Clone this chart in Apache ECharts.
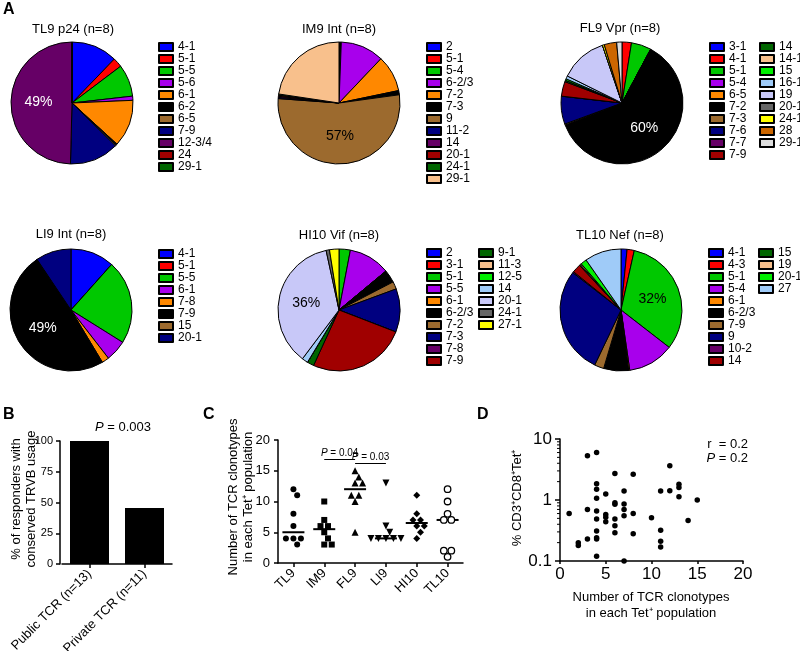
<!DOCTYPE html>
<html>
<head>
<meta charset="utf-8">
<script src="https://cdn.jsdelivr.net/npm/echarts@6/dist/echarts.min.js"></script>
<style>
  html, body { margin: 0; padding: 0; background: #fff; }
  #page { position: relative; width: 800px; height: 651px; }
  #pies { position: absolute; left: 0; top: 0; width: 800px; height: 395px; }
  #panelB { position: absolute; left: 0; top: 395px; width: 200px; height: 256px; }
  #panelC { position: absolute; left: 200px; top: 395px; width: 275px; height: 256px; }
  #panelD { position: absolute; left: 475px; top: 395px; width: 325px; height: 256px; }
</style>
</head>
<body>
<div id="page">
  <div id="pies"></div>
  <div id="panelB"></div>
  <div id="panelC"></div>
  <div id="panelD"></div>
</div>
<script>
var FONT = 'Liberation Sans, Arial, sans-serif';

// TRVB colour key (same order in every pie)
var palette = ['#0000FF', '#FF0000', '#00C800', '#A800EC', '#FF8800', '#000000', '#9C6A2E',
  '#000080', '#660066', '#A00000', '#006600', '#F8C08C', '#00F000', '#9FCBF8', '#C8C8F8',
  '#666666', '#FFFF00', '#CC6600', '#DDDDDD'];

// A: share of each TRBV in the tetramer+ population (%)
var pieTitles = ['TL9 p24 (n=8)', 'IM9 Int (n=8)', 'FL9 Vpr (n=8)', 'LI9 Int (n=8)', 'HI10 Vif (n=8)', 'TL10 Nef (n=8)'];
var tl9Genes = ['4-1', '5-1', '5-5', '5-6', '6-1', '6-2', '6-5', '7-9', '12-3/4', '24', '29-1'];
var tl9Share = [12.2, 2.5, 8.5, 1.1, 12.5, 0.3, 0.3, 13.0, 49.6, 0, 0];
var im9Genes = ['2', '5-1', '5-4', '6-2/3', '7-2', '7-3', '9', '11-2', '14', '20-1', '24-1', '29-1'];
var im9Share = [0.2, 0.2, 0.2, 11.4, 9.6, 1.1, 53.0, 0.3, 0.3, 0.3, 0.3, 22.5];
var fl9Genes = ['3-1', '4-1', '5-1', '5-4', '6-5', '7-2', '7-3', '7-6', '7-7', '7-9', '14', '14-1', '15', '16-1', '19', '20-1', '24-1', '28', '29-1'];
var fl9Share = [0, 2.5, 5.3, 0, 0, 61.3, 0.3, 7.4, 0, 3.9, 0.4, 0, 0.4, 0.8, 12.5, 0, 0.5, 3.3, 1.4];
var li9Genes = ['4-1', '5-1', '5-5', '6-1', '7-8', '7-9', '15', '20-1'];
var li9Share = [11.6, 0, 22.3, 5.6, 1.9, 49.2, 0, 9.4];
var hi10Genes = ['2', '3-1', '5-1', '5-5', '6-1', '6-2/3', '7-2', '7-3', '7-8', '7-9', '9-1', '11-3', '12-5', '14', '20-1', '24-1', '27-1'];
var hi10Share = [0, 0, 3.0, 11.0, 0, 3.4, 2.0, 11.5, 0, 26.0, 1.8, 0, 0, 1.6, 36.4, 0.9, 2.5];
var tl10Genes = ['4-1', '4-3', '5-1', '5-4', '6-1', '6-2/3', '7-9', '9', '10-2', '14', '15', '19', '20-1', '27'];
var tl10Share = [1.6, 1.9, 32.0, 12.2, 0.3, 6.6, 2.5, 28.4, 0.3, 2.3, 0.3, 0.3, 1.6, 9.7];
var pieBigLabels = ['49%', '57%', '60%', '49%', '36%', '32%'];

// B
var bCats = ['Public TCR (n=13)', 'Private TCR (n=11)'];
var bValues = [100, 45.45];

// C: number of clonotypes per responder
var cGroups = ['TL9', 'IM9', 'FL9', 'LI9', 'HI10', 'TL10'];
var tl9Clones = [12, 11, 8, 6, 4, 4, 4, 3];
var im9Clones = [10, 7, 6, 6, 5, 4, 3, 3];
var fl9Clones = [15, 14, 13, 13, 11, 11, 10, 5];
var li9Clones = [13, 6, 5, 4, 4, 4, 4, 4];
var hi10Clones = [11, 8, 7, 7, 6, 6, 5, 4];
var tl10Clones = [12, 10, 8, 7, 7, 2, 2, 1];

// D: clonotype count vs % CD3+CD8+Tet+
var dClones = [1, 2, 2, 3, 3, 3, 4, 4, 4, 4, 4, 4, 4, 4, 4, 4, 5, 5, 5, 5, 6, 6, 6, 6, 6, 6,
  7, 7, 7, 7, 7, 8, 8, 8, 10, 11, 11, 11, 11, 12, 12, 13, 13, 13, 14, 15];
var dFreq = [0.60, 0.20, 0.18, 5.3, 0.70, 0.23, 6.0, 1.84, 1.50, 1.07, 0.66, 0.49, 0.31, 0.24, 0.23, 0.12,
  1.26, 0.58, 0.52, 0.44, 2.72, 0.90, 0.85, 0.49, 0.38, 0.29,
  1.41, 0.86, 0.70, 0.55, 0.10, 2.65, 0.60, 0.28, 0.51, 1.41, 0.32, 0.21, 0.17, 3.63, 1.42, 1.81, 1.60, 1.13, 0.46, 1.0];

var pieGenes = [tl9Genes, im9Genes, fl9Genes, li9Genes, hi10Genes, tl10Genes];
var pieShares = [tl9Share, im9Share, fl9Share, li9Share, hi10Share, tl10Share];
var cClones = [tl9Clones, im9Clones, fl9Clones, li9Clones, hi10Clones, tl10Clones];

var pieCenters = [[72, 103], [339, 103], [622, 103], [71, 310], [339, 310], [621, 310]];
var titlePos = [[73, 29], [339, 29], [620, 28], [71, 234], [339, 235], [620, 235]];
var legendPos = [[158, 41, 710], [426, 41, 0], [709, 41, 759], [158, 248, 0], [426, 247, 478], [708, 247, 758]];

function lum(hex) {
  var r = parseInt(hex.substr(1, 2), 16), g = parseInt(hex.substr(3, 2), 16), b = parseInt(hex.substr(5, 2), 16);
  return 0.299 * r + 0.587 * g + 0.114 * b;
}
function txt(text, x, y, opts) {
  opts = opts || {};
  return {
    type: 'text', x: x, y: y, rotation: opts.rot || 0,
    style: { text: text, fontSize: opts.size || 13, fontWeight: opts.weight || 'normal', fontFamily: FONT, fill: '#000',
      textAlign: opts.align || 'center', textVerticalAlign: 'middle',
      rich: { i: { fontStyle: 'italic', fontSize: opts.size || 13, fontFamily: FONT } } }
  };
}
function axLine() { return { show: true, onZero: false, lineStyle: { color: '#000', width: 1.5 } }; }
function axTick(len, align) { return { show: true, alignWithLabel: !!align, inside: false, length: len, lineStyle: { color: '#000', width: 1.5 } }; }
function lbl(size, margin, rotate) { return { fontSize: size, color: '#000', margin: margin, rotate: rotate || 0, fontFamily: FONT }; }
var UP = Math.PI / 2;

// ---------- A: pies ----------
var pieSeries = [], legends = [], pieTexts = [txt('A', 3, 10, { size: 16, weight: 'bold', align: 'left' })];
pieGenes.forEach(function (genes, p) {
  var shares = pieShares[p];
  var big = shares.indexOf(Math.max.apply(null, shares));
  var data = genes.map(function (g, i) {
    var item = { name: p + '|' + g, value: shares[i], itemStyle: { color: palette[i] } };
    if (i === big) {
      item.label = { show: true, position: 'inside', formatter: pieBigLabels[p],
        color: lum(palette[i]) < 100 ? '#fff' : '#000', fontSize: 14, fontFamily: FONT };
    }
    return item;
  });
  pieSeries.push({
    type: 'pie', center: pieCenters[p], radius: 61, startAngle: 90, clockwise: true,
    silent: true, emphasis: { disabled: true }, label: { show: false }, labelLine: { show: false },
    itemStyle: { borderColor: '#000', borderWidth: 1 }, avoidLabelOverlap: false, data: data
  });
  var names = data.map(function (d) { return d.name; });
  var cols = names.length > 12 ? [names.slice(0, 10), names.slice(10)] : [names];
  cols.forEach(function (col, ci) {
    legends.push({
      orient: 'vertical', left: ci === 0 ? legendPos[p][0] : legendPos[p][2], top: legendPos[p][1],
      padding: 0, itemGap: 0, itemWidth: 14, itemHeight: 8, icon: 'rect', selectedMode: false,
      textStyle: { fontSize: 12, lineHeight: 12, fontFamily: FONT, color: '#000' },
      formatter: function (n) { return n.split('|')[1]; },
      data: col
    });
  });
  pieTexts.push(txt(pieTitles[p], titlePos[p][0], titlePos[p][1]));
});
var pieChart = echarts.init(document.getElementById('pies'));
pieChart.setOption({ animation: false, textStyle: { fontFamily: FONT }, graphic: pieTexts, legend: legends, series: pieSeries });

// ---------- B: bars ----------
var bChart = echarts.init(document.getElementById('panelB'));
bChart.setOption({
  animation: false,
  textStyle: { fontFamily: FONT },
  graphic: [
    txt('B', 3, 20, { size: 16, weight: 'bold', align: 'left' }),
    txt('{i|P} = 0.003', 123, 32),
    txt('% of responders with', 16, 104, { rot: UP }),
    txt('conserved TRVB usage', 31, 104, { rot: UP })
  ],
  grid: { left: 62, top: 46, width: 110, height: 123, outerBoundsMode: 'none', containLabel: false },
  xAxis: { type: 'category', data: bCats, axisLine: axLine(), axisTick: axTick(4, true), axisLabel: lbl(13, 8, 45) },
  yAxis: { type: 'value', min: 0, max: 100, interval: 25, offset: 2, axisLine: axLine(), axisTick: axTick(4),
    splitLine: { show: false }, axisLabel: lbl(11, 7) },
  series: [{ type: 'bar', barWidth: 39, silent: true, itemStyle: { color: '#000' }, data: bValues }]
});

// ---------- C: clonotype counts ----------
var cSymbols = [
  { symbol: 'circle', symbolSize: 6 },
  { symbol: 'rect', symbolSize: 6 },
  { symbol: 'triangle', symbolSize: 7 },
  { symbol: 'triangle', symbolSize: 7, symbolRotate: 180 },
  { symbol: 'diamond', symbolSize: 7 },
  { symbol: 'circle', symbolSize: 6.5 }
];
function median(arr) {
  var s = arr.slice().sort(function (a, b) { return a - b; });
  var m = s.length / 2;
  return s.length % 2 ? s[Math.floor(m)] : (s[m - 1] + s[m]) / 2;
}
var cSeries = cClones.map(function (vals, g) {
  var s = cSymbols[g];
  return {
    type: 'scatter', silent: true, symbol: s.symbol, symbolSize: s.symbolSize, symbolRotate: s.symbolRotate || 0,
    itemStyle: g === 5 ? { color: '#fff', borderColor: '#000', borderWidth: 1.3, opacity: 1 } : { color: '#000', opacity: 1 },
    data: vals.map(function (v) { return [g, v]; })
  };
});
var cOption = {
  animation: false,
  textStyle: { fontFamily: FONT },
  graphic: [
    txt('C', 3, 20, { size: 16, weight: 'bold', align: 'left' }),
    txt('Number of TCR clonotypes', 33, 102, { rot: UP }),
    txt('in each Tet\u207A population', 48, 102, { rot: UP })
  ],
  grid: { left: 78, top: 45, width: 185, height: 123, outerBoundsMode: 'none', containLabel: false },
  xAxis: { type: 'category', data: cGroups, axisLine: axLine(), axisTick: axTick(4, true), axisLabel: lbl(13, 8, 45) },
  yAxis: { type: 'value', min: 0, max: 20, interval: 5, axisLine: axLine(), axisTick: axTick(4),
    splitLine: { show: false }, axisLabel: lbl(13, 8) },
  series: cSeries.concat([{
    type: 'scatter', silent: true, z: 1, symbol: 'rect', symbolSize: [22, 2], itemStyle: { color: '#000', opacity: 1 },
    data: cClones.map(function (vals, g) { return [g, median(vals)]; }),
    markLine: {
      silent: true, symbol: 'none', animation: false,
      lineStyle: { color: '#000', width: 1, type: 'solid' },
      label: { show: true, position: 'insideMiddleTop', distance: 1, fontSize: 10, fontFamily: FONT, color: '#000',
        rich: { i: { fontStyle: 'italic', fontSize: 10, fontFamily: FONT } } },
      data: [
        [{ coord: ['IM9', 16.9], label: { formatter: '{i|P} = 0.04' } }, { coord: ['FL9', 16.9] }],
        [{ coord: ['FL9', 16.2], label: { formatter: '{i|P} = 0.03' } }, { coord: ['LI9', 16.2] }]
      ]
    }
  }])
};
var cChart = echarts.init(document.getElementById('panelC'));
cChart.setOption(cOption);

// spread overlapping points sideways, like a column scatter plot
var pxPerUnit = cChart.convertToPixel({ yAxisIndex: 0 }, 0) - cChart.convertToPixel({ yAxisIndex: 0 }, 1);
var step = 7.5, minDist = 7;
cClones.forEach(function (vals, g) {
  var placed = [], offsets = {};
  var uniq = vals.filter(function (v, i) { return vals.indexOf(v) === i; }).sort(function (a, b) { return b - a; });
  uniq.forEach(function (v) {
    var n = vals.filter(function (x) { return x === v; }).length;
    var shifts = [0, step / 2, -step / 2, step, -step, 1.5 * step, -1.5 * step];
    for (var s = 0; s < shifts.length; s++) {
      var xs = [];
      for (var k = 0; k < n; k++) xs.push(shifts[s] + (k - (n - 1) / 2) * step);
      var ok = xs.every(function (x) {
        return placed.every(function (p) {
          var dx = x - p[0], dy = (v - p[1]) * pxPerUnit;
          return Math.sqrt(dx * dx + dy * dy) >= minDist - 0.01;
        });
      });
      if (ok || s === shifts.length - 1) {
        offsets[v] = xs.slice();
        xs.forEach(function (x) { placed.push([x, v]); });
        break;
      }
    }
  });
  var used = {};
  cSeries[g].data = vals.map(function (v) {
    used[v] = used[v] || 0;
    return { value: [g, v], symbolOffset: [offsets[v][used[v]++], 0] };
  });
});
cChart.setOption(cOption, true);

// ---------- D: clonotypes vs frequency ----------
var minorVals = [];
[0.1, 1].forEach(function (d) { for (var k = 2; k <= 9; k++) minorVals.push(k * d); });
var dChart = echarts.init(document.getElementById('panelD'));
dChart.setOption({
  animation: false,
  textStyle: { fontFamily: FONT },
  graphic: [
    txt('D', 2, 20, { size: 16, weight: 'bold', align: 'left' }),
    txt('r  = 0.2', 273, 49, { align: 'right' }),
    txt('{i|P} = 0.2', 273, 63, { align: 'right' }),
    txt('% CD3\u207ACD8\u207ATet\u207A', 42, 103, { rot: UP }),
    txt('Number of TCR clonotypes', 176, 202),
    txt('in each Tet\u207A population', 176, 218)
  ],
  grid: { left: 85, top: 44, width: 183, height: 122, outerBoundsMode: 'none', containLabel: false },
  xAxis: { type: 'value', min: 0, max: 20, interval: 5, axisLine: axLine(), axisTick: axTick(3),
    splitLine: { show: false }, axisLabel: lbl(17, 5) },
  yAxis: { type: 'log', logBase: 10, min: 0.1, max: 10, axisLine: axLine(), axisTick: axTick(5),
    splitLine: { show: false }, axisLabel: lbl(17, 8) },
  series: [
    { type: 'scatter', silent: true, symbolSize: 5.5, itemStyle: { color: '#000', opacity: 1 },
      data: dClones.map(function (x, i) { return [x, dFreq[i]]; }) },
    { type: 'custom', silent: true, clip: false,
      renderItem: function (params, api) {
        var pt = api.coord([api.value(0), api.value(1)]);
        return { type: 'line', shape: { x1: pt[0] - 3, y1: pt[1], x2: pt[0], y2: pt[1] }, style: { stroke: '#000', lineWidth: 1 } };
      },
      encode: { x: 0, y: 1 },
      data: minorVals.map(function (v) { return [0, v]; }) }
  ]
});
</script>
</body>
</html>
